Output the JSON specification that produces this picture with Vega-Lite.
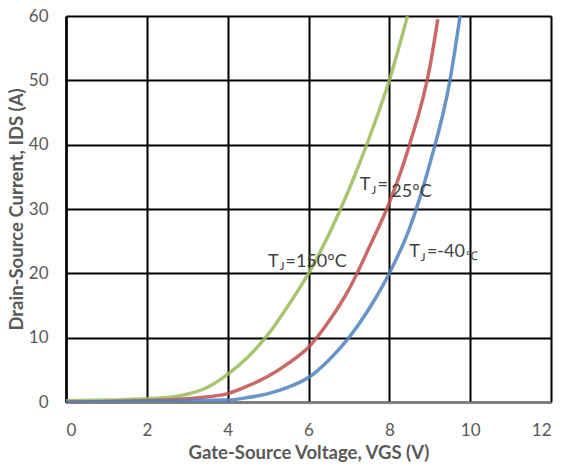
{
  "$schema": "https://vega.github.io/schema/vega-lite/v6.json",
  "width": 485,
  "height": 386,
  "autosize": "none",
  "padding": {"left": 66, "top": 16, "right": 15, "bottom": 64},
  "background": "white",
  "config": {
    "view": {"stroke": null},
    "font": "Lato",
    "axis": {
      "grid": true,
      "gridColor": "#000000",
      "gridWidth": 2,
      "gridOpacity": 1,
      "ticks": false,
      "labelFont": "Lato",
      "labelFontSize": 17,
      "labelColor": "#595959",
      "titleFont": "Lato",
      "titleFontSize": 18.5,
      "titleFontWeight": "bold",
      "titleColor": "#595959"
    }
  },
  "datasets": {
    "curves": [
      {"vgs": 0, "ids": 0.2, "tj": "150"}, {"vgs": 1, "ids": 0.3, "tj": "150"}, {"vgs": 2, "ids": 0.5, "tj": "150"},
      {"vgs": 2.5, "ids": 0.7, "tj": "150"}, {"vgs": 3, "ids": 1.2, "tj": "150"}, {"vgs": 3.5, "ids": 2.3, "tj": "150"},
      {"vgs": 4, "ids": 4.3, "tj": "150"}, {"vgs": 4.5, "ids": 7, "tj": "150"}, {"vgs": 5, "ids": 10.5, "tj": "150"},
      {"vgs": 5.5, "ids": 15, "tj": "150"}, {"vgs": 6, "ids": 20, "tj": "150"}, {"vgs": 6.5, "ids": 26, "tj": "150"},
      {"vgs": 7, "ids": 33, "tj": "150"}, {"vgs": 7.5, "ids": 41, "tj": "150"}, {"vgs": 8, "ids": 50, "tj": "150"},
      {"vgs": 8.45, "ids": 60, "tj": "150"},
      {"vgs": 0, "ids": 0, "tj": "25"}, {"vgs": 2, "ids": 0.2, "tj": "25"}, {"vgs": 3, "ids": 0.5, "tj": "25"},
      {"vgs": 3.5, "ids": 0.8, "tj": "25"}, {"vgs": 4, "ids": 1.3, "tj": "25"}, {"vgs": 4.5, "ids": 2.5, "tj": "25"},
      {"vgs": 5, "ids": 4, "tj": "25"}, {"vgs": 5.5, "ids": 6, "tj": "25"}, {"vgs": 6, "ids": 8.5, "tj": "25"},
      {"vgs": 6.5, "ids": 12.5, "tj": "25"}, {"vgs": 7, "ids": 17.5, "tj": "25"}, {"vgs": 7.5, "ids": 24, "tj": "25"},
      {"vgs": 8, "ids": 31, "tj": "25"}, {"vgs": 8.5, "ids": 40, "tj": "25"}, {"vgs": 9, "ids": 52, "tj": "25"},
      {"vgs": 9.2, "ids": 59.5, "tj": "25"},
      {"vgs": 0, "ids": 0, "tj": "-40"}, {"vgs": 4, "ids": 0.3, "tj": "-40"}, {"vgs": 4.5, "ids": 0.7, "tj": "-40"},
      {"vgs": 5, "ids": 1.3, "tj": "-40"}, {"vgs": 5.5, "ids": 2.3, "tj": "-40"}, {"vgs": 6, "ids": 3.8, "tj": "-40"},
      {"vgs": 6.5, "ids": 6.5, "tj": "-40"}, {"vgs": 7, "ids": 10, "tj": "-40"}, {"vgs": 7.5, "ids": 14.5, "tj": "-40"},
      {"vgs": 8, "ids": 20, "tj": "-40"}, {"vgs": 8.5, "ids": 27, "tj": "-40"}, {"vgs": 9, "ids": 37, "tj": "-40"},
      {"vgs": 9.5, "ids": 50, "tj": "-40"}, {"vgs": 9.75, "ids": 60, "tj": "-40"}
    ],
    "bigText": [
      {"vgs": 5.0, "ids": 21.8, "t": "T"}, {"vgs": 5.43, "ids": 21.8, "t": "=150°C"},
      {"vgs": 7.27, "ids": 33.7, "t": "T"}, {"vgs": 7.71, "ids": 33.7, "t": "="}, {"vgs": 8.05, "ids": 32.6, "t": "25°C"},
      {"vgs": 8.49, "ids": 23.3, "t": "T"}, {"vgs": 8.93, "ids": 23.3, "t": "=-40"}
    ],
    "smallText": [
      {"vgs": 5.28, "ids": 21.1, "t": "J"},
      {"vgs": 7.55, "ids": 33.0, "t": "J"},
      {"vgs": 8.77, "ids": 22.6, "t": "J"},
      {"vgs": 9.9, "ids": 22.7, "t": "℃"}
    ]
  },
  "layer": [
    {
      "data": {"name": "curves"},
      "mark": {"type": "line", "interpolate": "monotone", "strokeWidth": 3.5, "opacity": 0.85, "clip": true},
      "encoding": {
        "x": {
          "field": "vgs", "type": "quantitative",
          "scale": {"domain": [0, 12], "nice": false},
          "axis": {"values": [0, 2, 4, 6, 8, 10, 12], "title": "Gate-Source Voltage, VGS (V)",
                   "domainColor": "#808080", "domainWidth": 2, "labelPadding": 20, "titlePadding": 5}
        },
        "y": {
          "field": "ids", "type": "quantitative",
          "scale": {"domain": [0, 60], "nice": false},
          "axis": {"values": [0, 10, 20, 30, 40, 50, 60], "title": "Drain-Source Current, IDS (A)",
                   "domainColor": "#000000", "domainWidth": 2.5, "labelPadding": 18, "titlePadding": 2}
        },
        "color": {
          "field": "tj", "type": "nominal",
          "scale": {"domain": ["150", "25", "-40"], "range": ["#9BBB59", "#C0504D", "#4F81BD"]},
          "legend": null
        }
      }
    },
    {
      "data": {"name": "bigText"},
      "mark": {"type": "text", "align": "left", "baseline": "middle", "fontSize": 18, "color": "#404040", "font": "Lato"},
      "encoding": {
        "x": {"field": "vgs", "type": "quantitative"},
        "y": {"field": "ids", "type": "quantitative"},
        "text": {"field": "t"}
      }
    },
    {
      "data": {"name": "smallText"},
      "mark": {"type": "text", "align": "left", "baseline": "middle", "fontSize": 12, "color": "#404040", "font": "Lato"},
      "encoding": {
        "x": {"field": "vgs", "type": "quantitative"},
        "y": {"field": "ids", "type": "quantitative"},
        "text": {"field": "t"}
      }
    }
  ]
}
